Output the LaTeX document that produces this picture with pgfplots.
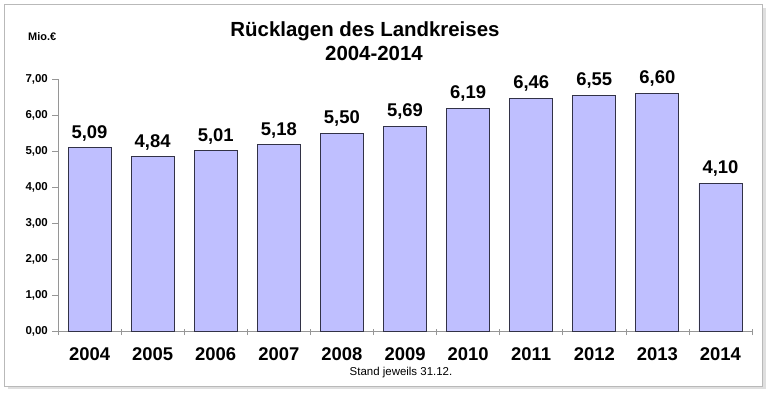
\documentclass[border=0pt]{standalone}
\usepackage{fontspec}
\setmainfont{Liberation Sans}
\usepackage{pgfplots}
\pgfplotsset{compat=1.18}
\definecolor{barfill}{RGB}{191,191,255}
\definecolor{baredge}{RGB}{50,50,70}
\definecolor{axgray}{RGB}{150,150,150}
\begin{document}
\begin{tikzpicture}[x=1bp,y=1bp]
\useasboundingbox (0,0) rectangle (768,392);
\draw[gray!25, line width=2.5bp] (8,4.5)--(764.5,4.5)--(764.5,384);
\draw[gray!55, line width=0.8bp, fill=white] (4,6) rectangle (762,388);
\begin{axis}[
  at={(58bp,61bp)}, anchor=south west,
  scale only axis, width=694bp, height=252bp,
  xmin=-0.5, xmax=10.5, ymin=0, ymax=7,
  axis lines=left, axis line style={-, draw=axgray, line width=0.6bp},
  ytick={0,1,...,7},
  xtick={-0.5,0.5,...,10.5},
  xticklabels={},
  tick align=outside, major tick length=6bp,
  tick style={draw=axgray, line width=0.6bp},
  xtick style={yshift=2bp},
  extra x ticks={0,1,...,10},
  extra x tick labels={2004,2005,2006,2007,2008,2009,2010,2011,2012,2013,2014},
  extra x tick style={major tick length=0pt, tick style={draw=none},
    tick label style={font=\bfseries\fontsize{18.5}{20}\selectfont, anchor=base, yshift=-29bp, inner sep=0pt}},
  /pgf/number format/assume math mode=true,
  yticklabel style={font=\bfseries\fontsize{11.5}{13}\selectfont, anchor=east, inner sep=0pt, xshift=-4bp,
    /pgf/number format/.cd, fixed, fixed zerofill, precision=2, use comma},
  ybar, bar width=43bp,
  nodes near coords={\pgfmathprintnumber[fixed,fixed zerofill,precision=2,use comma,assume math mode=true]{\pgfplotspointmeta}},
  every node near coord/.append style={font=\bfseries\fontsize{18.5}{20}\selectfont, anchor=base, yshift=9.5bp, inner sep=0pt, text=black},
  clip=false,
]
\addplot[fill=barfill, draw=baredge, line width=0.8bp, bar shift=0pt] coordinates {
(0,5.09) (1,4.84) (2,5.01) (3,5.18) (4,5.50) (5,5.69) (6,6.19) (7,6.46) (8,6.55) (9,6.60) (10,4.10)};
\end{axis}
\node[anchor=base, inner sep=0pt, font=\bfseries\fontsize{20.5}{23}\selectfont] at (365,356) {Rücklagen des Landkreises};
\node[anchor=base, inner sep=0pt, font=\bfseries\fontsize{20.5}{23}\selectfont] at (374,332) {2004-2014};
\node[anchor=base west, inner sep=0pt, font=\bfseries\fontsize{11}{13}\selectfont] at (28,352) {Mio.€};
\node[anchor=base, inner sep=0pt, font=\fontsize{11.5}{13}\selectfont] at (401,17) {Stand jeweils 31.12.};
\end{tikzpicture}
\end{document}
